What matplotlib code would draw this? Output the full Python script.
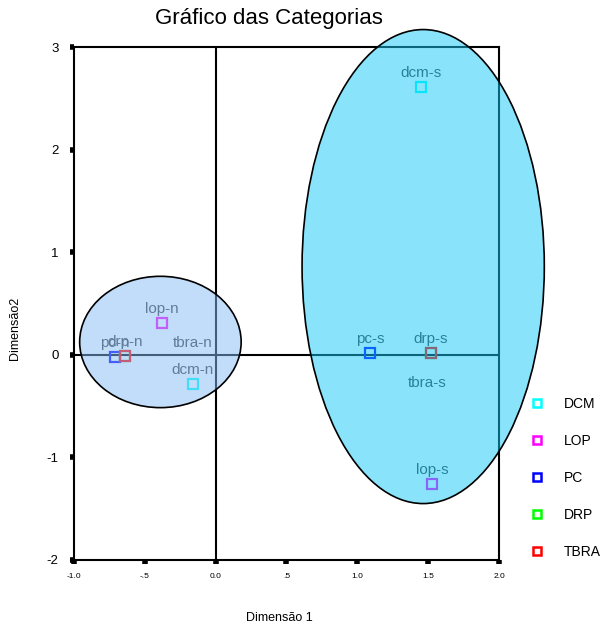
import matplotlib.pyplot as plt
from matplotlib.patches import Ellipse
from matplotlib.lines import Line2D

plt.rcParams['font.family'] = ['Liberation Sans', 'DejaVu Sans']

# Category points (dimension 1, dimension 2)
labels = ['dcm-s', 'dcm-n', 'lop-s', 'lop-n', 'pc-s', 'pc-n',
          'drp-s', 'drp-n', 'tbra-s', 'tbra-n']
groups = ['DCM', 'DCM', 'LOP', 'LOP', 'PC', 'PC', 'DRP', 'DRP', 'TBRA', 'TBRA']
dim1 = [1.45, -0.16, 1.53, -0.38, 1.09, -0.71, 1.52, -0.64, 1.52, -0.64]
dim2 = [2.61, -0.28, -1.26, 0.31, 0.02, -0.02, 0.02, -0.01, 0.02, -0.01]

legend_names = ['DCM', 'LOP', 'PC', 'DRP', 'TBRA']
legend_colors = ['#00ffff', '#ff00ff', '#0000ff', '#00ff00', '#ff0000']

xticks = [-1.0, -0.5, 0.0, 0.5, 1.0, 1.5, 2.0]
xtick_labels = ['-1.0', '-.5', '0.0', '.5', '1.0', '1.5', '2.0']
yticks = [-2, -1, 0, 1, 2, 3]

fig = plt.figure(figsize=(6.08, 6.25), dpi=100)
ax = fig.add_axes([0.1217, 0.104, 0.699, 0.8208])
ax.set_xlim(-1.0, 2.0)
ax.set_ylim(-2, 3)

ax.axvline(0, color='black', lw=1.5, zorder=1)
ax.axhline(0, color='black', lw=1.5, zorder=1)

color_of = dict(zip(legend_names, legend_colors))
for name in legend_names:
    xs = [x for x, g in zip(dim1, groups) if g == name]
    ys = [y for y, g in zip(dim2, groups) if g == name]
    ax.plot(xs, ys, ls='none', marker='s', ms=7, mfc='none',
            mec=color_of[name], mew=1.6, zorder=3)

# label offsets (points) for overlapping points
special = {'tbra-n': (49, 9.5), 'tbra-s': (-3, -21.5)}
for lab, x, y in zip(labels, dim1, dim2):
    dx, dy = special.get(lab, (0, 10))
    ax.annotate(lab, (x, y), xytext=(dx, dy), textcoords='offset points',
                ha='center', va='center', fontsize=11, color='#3a3a3a',
                zorder=4)

# group ellipses drawn over the points
ax.add_patch(Ellipse((-0.39, 0.125), 1.14, 1.28, facecolor='#87bdf5',
                     edgecolor='none', alpha=0.5, zorder=5, clip_on=False))
ax.add_patch(Ellipse((-0.39, 0.125), 1.14, 1.28, facecolor='none',
                     edgecolor='black', lw=1.2, zorder=6, clip_on=False))
ax.add_patch(Ellipse((1.465, 0.86), 1.71, 4.62, facecolor='#14cbf9',
                     edgecolor='none', alpha=0.5, zorder=5, clip_on=False))
ax.add_patch(Ellipse((1.465, 0.86), 1.71, 4.62, facecolor='none',
                     edgecolor='black', lw=1.2, zorder=6, clip_on=False))

for s in ax.spines.values():
    s.set_linewidth(1.5)
ax.set_xticks(xticks)
ax.set_xticklabels(xtick_labels, fontsize=6)
ax.set_yticks(yticks)
ax.set_yticklabels([str(t) for t in yticks], fontsize=9.5)
ax.tick_params(axis='x', direction='out', length=3, width=4, pad=6)
ax.tick_params(axis='y', direction='out', length=3, width=4, pad=8)

fig.text(0.442, 0.971, 'Gráfico das Categorias', ha='center', va='center',
         fontsize=16)
fig.text(0.46, 0.0112, 'Dimensão 1', ha='center', va='center', fontsize=9)
fig.text(0.025, 0.475, 'Dimensão2', ha='center', va='center',
         rotation=90, fontsize=9)

handles = [Line2D([], [], ls='none', marker='s', ms=6, mfc='none',
                  mec=c, mew=1.8) for c in legend_colors]
fig.legend(handles, legend_names, loc='upper left',
           bbox_to_anchor=(0.852, 0.385), frameon=False, fontsize=10,
           labelspacing=1.65, handletextpad=1.4, handlelength=1.0)

fig.savefig('out.png', dpi=100)
